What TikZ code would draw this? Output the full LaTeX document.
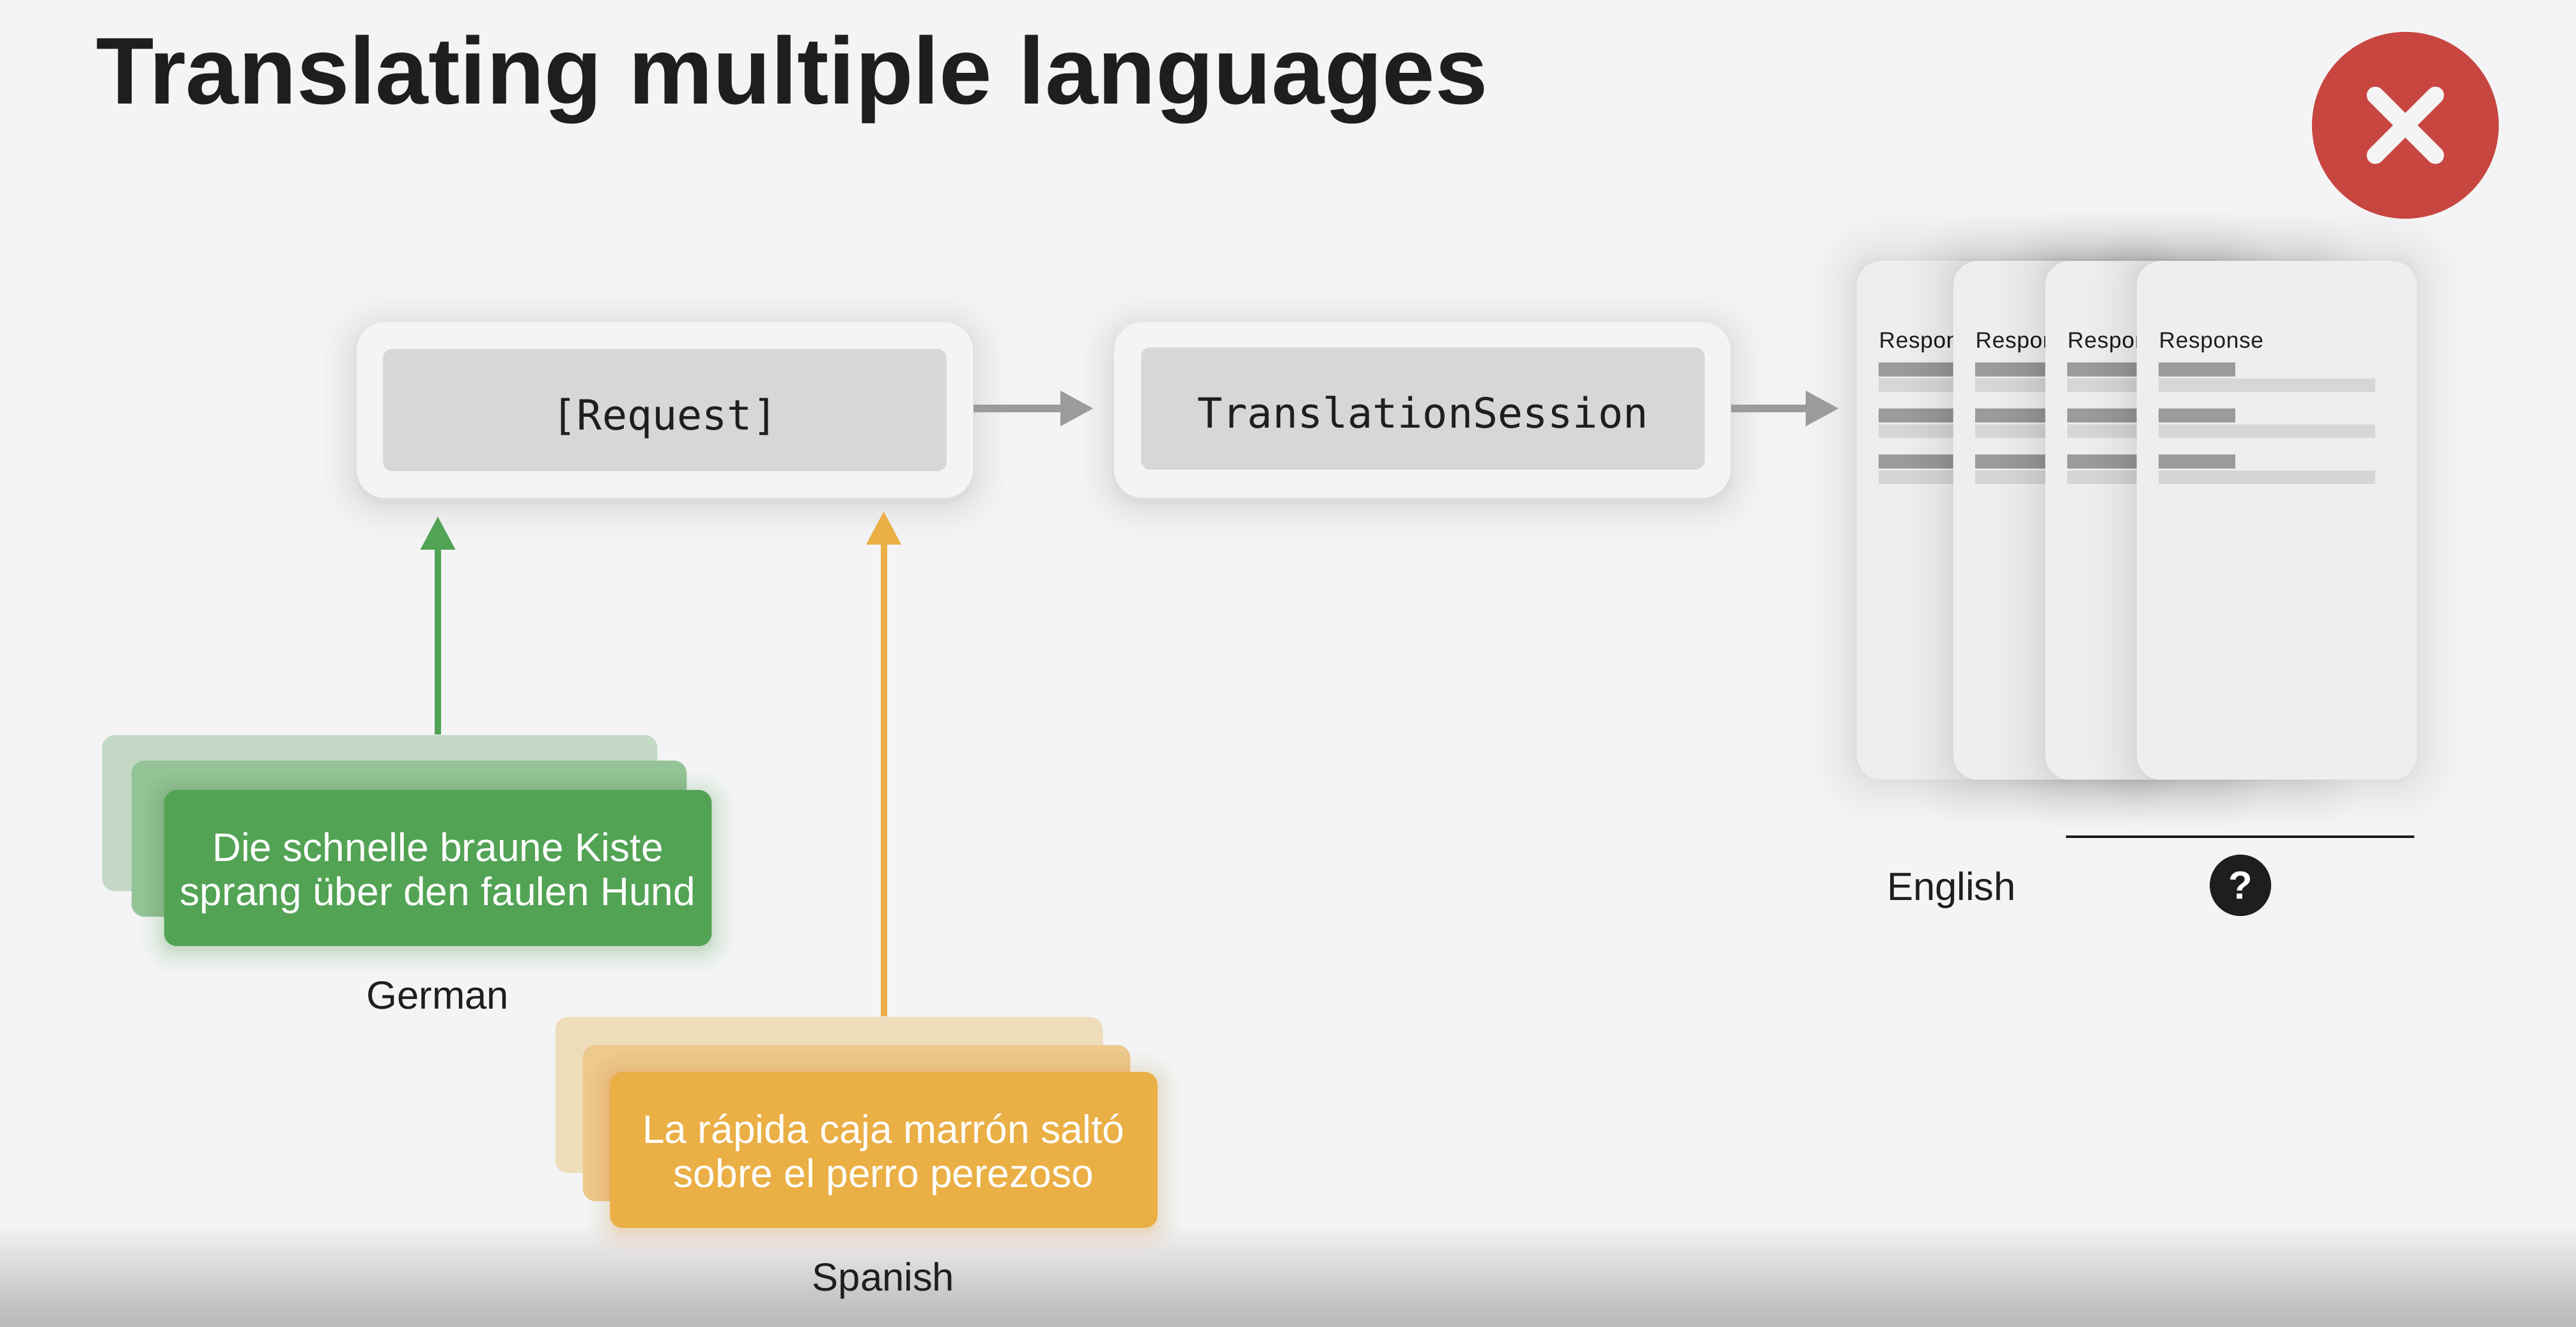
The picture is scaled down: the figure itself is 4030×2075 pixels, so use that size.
\documentclass[tikz,border=0pt]{standalone}
\usepackage{fontspec}
\setmainfont{Liberation Sans}
\setmonofont{DejaVu Sans Mono}
\newfontfamily\cardfont[LetterSpace=2]{Liberation Sans}
\usetikzlibrary{arrows.meta}
\definecolor{slidebg}{RGB}{244,244,246}
\definecolor{inkdark}{RGB}{30,30,32}
\definecolor{boxgray}{RGB}{215,215,217}
\definecolor{cardface}{RGB}{238,238,240}
\definecolor{bardark}{RGB}{155,155,157}
\definecolor{barlight}{RGB}{214,214,216}
\definecolor{arrowgray}{RGB}{155,155,157}
\definecolor{errred}{RGB}{200,70,64}
\definecolor{fademid}{RGB}{197,197,199}
\definecolor{fadeend}{RGB}{186,186,188}
\definecolor{greenA}{RGB}{195,217,197}
\definecolor{greenB}{RGB}{148,196,150}
\definecolor{greenC}{RGB}{82,163,84}
\definecolor{orangeA}{RGB}{238,221,186}
\definecolor{orangeB}{RGB}{237,201,140}
\definecolor{orangeC}{RGB}{234,175,69}
\tikzset{
  outerbox/.style={fill=slidebg,rounded corners=0.45cm,minimum width=9.64cm,minimum height=2.75cm,inner sep=0pt},
  innerbox/.style={fill=boxgray,rounded corners=0.14cm,minimum width=8.81cm,minimum height=1.91cm,inner sep=0pt,
    text=inkdark,text height=0.61cm,text depth=0cm,font=\ttfamily\fontsize{18.5}{22}\selectfont},
  cardbox/.style={fill=cardface,rounded corners=0.38cm,minimum width=4.38cm,minimum height=8.11cm,inner sep=0pt},
  langbox/.style={rounded corners=0.2cm,minimum width=8.56cm,minimum height=2.44cm,inner sep=0pt},
  langback/.style={langbox,minimum width=8.68cm},
  langtext/.style={anchor=base,inner sep=0pt,text=white,font=\fontsize{17.7}{20}\selectfont},
  langname/.style={anchor=base,inner sep=0pt,text=inkdark,font=\fontsize{17.5}{20}\selectfont},
  flowarrow/.style={draw=arrowgray,line width=0.12cm,-{Triangle[length=0.52cm,width=0.52cm]}},
  inarrow/.style={line width=0.10cm,-{Triangle[length=0.52cm,width=0.52cm]}},
}
% stacked see-through rectangles give the soft shadow
\newcommand{\softshadow}[8]{%
  \foreach \i in {1,...,24}{%
    \pgfmathsetmacro\off{#7*(\i/24)^2}
    \pgfmathsetmacro\rad{#5+\off}
    \fill[#6,opacity=#8,rounded corners=\rad*0.01cm] (#1-\off,#2-\off) rectangle (#3+\off,#4+\off);
  }}
\begin{document}
\begin{tikzpicture}[x=0.01cm,y=-0.01cm]
  \useasboundingbox (0,0) rectangle (4030,2075);
  \fill[slidebg] (0,0) rectangle (4030,2075);
  \fill[top color=slidebg,bottom color=fademid] (0,1915) rectangle (4030,2033);
  \fill[top color=fademid,bottom color=fadeend] (0,2033) rectangle (4030,2075);

  \node[anchor=base west,inner sep=0pt,text=inkdark,font=\bfseries\fontsize{42.2}{48}\selectfont] (title) at (150,162) {Translating multiple languages};

  % error badge
  \node[circle,fill=errred,minimum size=2.92cm,inner sep=0pt] (badge) at (3763,196) {};
  \draw[slidebg,line width=0.27cm,line cap=round] ([shift={(-47,-47)}]badge.center) -- ([shift={(47,47)}]badge.center);
  \draw[slidebg,line width=0.27cm,line cap=round] ([shift={(-47,47)}]badge.center) -- ([shift={(47,-47)}]badge.center);

  % the two steps
  \softshadow{558}{512}{1522}{787}{45}{black}{55}{0.0035}
  \softshadow{1743}{512}{2707}{787}{45}{black}{55}{0.0035}
  \node[outerbox] (reqouter) at (1040,641.5) {};
  \node[innerbox] (req) at (1040,641.5) {[Request]};
  \node[outerbox] (sessouter) at (2225,641.5) {};
  \node[innerbox] (sess) at (2226,639) {TranslationSession};

  % response cards
  \foreach \n/\x in {1/2904,2/3055,3/3199,4/3342}{
    \softshadow{\x}{407}{\x+438}{1218}{38}{black}{75}{0.0045}
    \node[cardbox,anchor=north west] (card\n) at (\x,407.5) {};
    \node[anchor=base west,inner sep=0pt,text=inkdark,font=\cardfont\fontsize{10}{12}\selectfont] (resp\n) at (\x+35,544) {Response};
    \foreach \y in {567,639,711}{
      \fill[bardark] (\x+35,\y) rectangle +(120,21.5);
      \fill[barlight] (\x+35,\y+24.5) rectangle +(339,21);
    }
  }
  \node[langname] (english) at (3053,1408) {English};
  \coordinate (ruleL) at (3232,1309);
  \coordinate (ruleR) at (3777,1309);
  \draw[inkdark,line width=0.035cm] (ruleL) -- (ruleR);
  \node[circle,fill=inkdark,minimum size=0.96cm,inner sep=0pt,text=white,font=\bfseries\fontsize{17.5}{20}\selectfont] (unknown) at (3505,1385) {?};

  % German stack
  \node[langback,fill=greenA] (greenback) at (594,1272) {};
  \node[langback,fill=greenB] (greenmid) at (640,1312) {};
  \softshadow{257}{1242}{1113}{1486}{20}{greenC}{38}{0.009}
  \node[langbox,fill=greenC] (greenfront) at (685,1358) {};
  \node[langtext] (de1) at (685,1347) {Die schnelle braune Kiste};
  \node[langtext] (de2) at (685,1416) {sprang über den faulen Hund};
  \node[langname] (german) at (685,1578) {German};

  % Spanish stack
  \node[langbox,fill=orangeA] (orangeback) at (1297,1713) {};
  \node[langbox,fill=orangeB] (orangemid) at (1340,1757) {};
  \softshadow{954}{1683}{1811}{1927}{20}{orangeC}{38}{0.009}
  \node[langbox,fill=orangeC] (orangefront) at (1382.5,1799) {};
  \node[langtext] (es1) at (1382.5,1788) {La rápida caja marrón saltó};
  \node[langtext] (es2) at (1382.5,1857) {sobre el perro perezoso};
  \node[langname] (spanish) at (1382,2019) {Spanish};

  % connectors
  \draw[flowarrow,shorten >=0.31cm] (reqouter.east |- sess.center) -- (sessouter.west |- sess.center);
  \draw[flowarrow,shorten >=0.27cm] (sessouter.east |- sess.center) -- (card1.west |- sess.center);
  \draw[inarrow,draw=greenC,shorten >=0.28cm] (greenfront.center |- greenback.north) -- (greenfront.center |- reqouter.south);
  \draw[inarrow,draw=orangeC,shorten >=0.2cm] (orangefront.center |- orangeback.north) -- (orangefront.center |- reqouter.south);
\end{tikzpicture}
\end{document}
